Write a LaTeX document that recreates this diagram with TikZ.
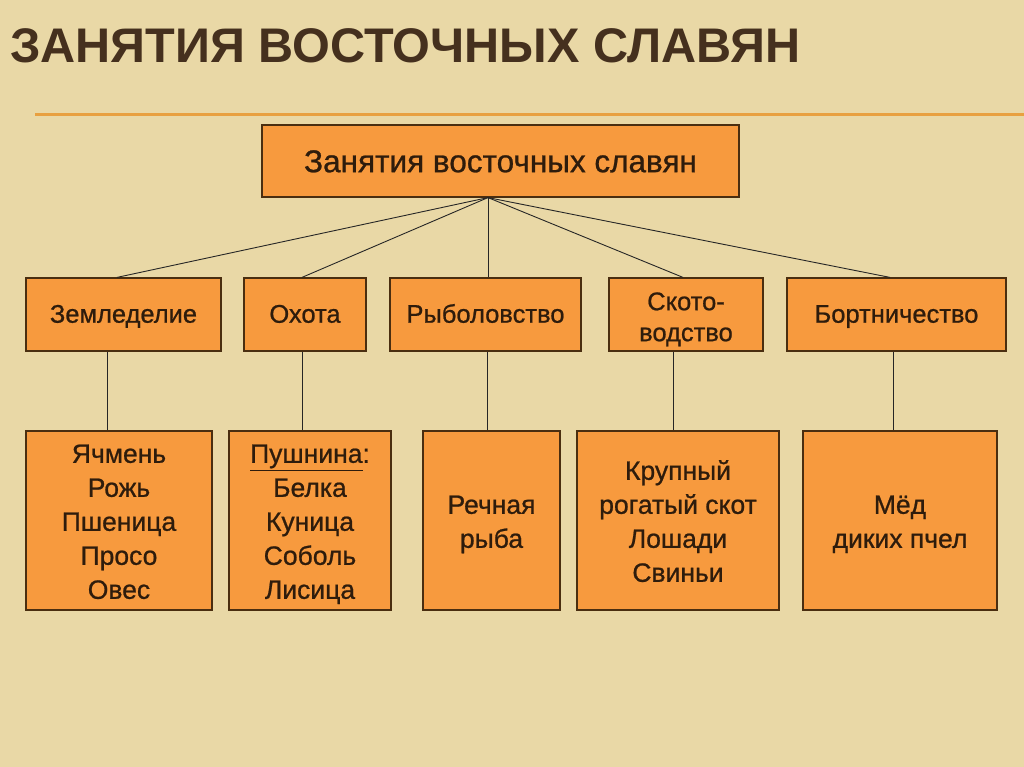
\documentclass[tikz,border=0pt]{standalone}
\usepackage{fontspec}
\setmainfont{Liberation Sans}
\newfontfamily\boxfont[FakeBold=0.8]{Liberation Sans}
\usetikzlibrary{calc}
\definecolor{bg}{HTML}{E9D8A6}
\definecolor{boxfill}{HTML}{F79A3E}
\definecolor{boxline}{HTML}{4A2E10}
\definecolor{txt}{HTML}{2E1C0C}
\definecolor{ttl}{HTML}{45301E}
\definecolor{rulec}{HTML}{E8A040}
\newcommand\lowered[2]{\raisebox{-#1}[\height][\depth]{\begin{tabular}{@{}c@{}}#2\end{tabular}}}
\tikzset{
  box/.style={draw=boxline, line width=1.2pt, fill=boxfill, inner sep=0pt, align=center, text=txt},
  topbox/.style={box, font=\boxfont\fontsize{31.5}{36}\selectfont},
  midbox/.style={box, minimum height=73pt, font=\boxfont\fontsize{25.5}{31}\selectfont},
  lowbox/.style={box, minimum height=179pt, font=\boxfont\fontsize{26.5}{34}\selectfont},
  conn/.style={draw=black!85, line width=0.9pt}
}
\begin{document}
\begin{tikzpicture}[x=1pt,y=-1pt]
\fill[bg] (0,0) rectangle (1024,767);
\useasboundingbox (0,0) rectangle (1024,767);
\fill[rulec] (35,113.5) rectangle (1024,116.5);
\node[anchor=base west, inner sep=0pt, text=ttl, font=\fontsize{48.6}{56}\bfseries\selectfont] (title) at (10,63) {ЗАНЯТИЯ ВОСТОЧНЫХ СЛАВЯН};

\node[topbox, minimum width=477pt, minimum height=72pt] (top) at (500.5,161) {\lowered{4pt}{Занятия восточных славян}};

\node[midbox, minimum width=195pt] (zem) at (123.5,314.5) {\lowered{2pt}{Земледелие}};
\node[midbox, minimum width=122pt] (oh) at (305,314.5) {\lowered{2pt}{Охота}};
\node[midbox, minimum width=191pt] (ryb) at (485.5,314.5) {\lowered{2pt}{Рыболовство}};
\node[midbox, minimum width=154pt] (sk) at (686,314.5) {\lowered{5pt}{Ското-\\водство}};
\node[midbox, minimum width=219pt] (bort) at (896.5,314.5) {\lowered{2pt}{Бортничество}};

\node[lowbox, minimum width=186pt] (b1) at (119,520.5) {\lowered{3.5pt}{Ячмень\\Рожь\\Пшеница\\Просо\\Овес}};
\node[lowbox, minimum width=162pt] (b2) at (310,520.5) {\lowered{3.5pt}{\underline{Пушнина}:\\Белка\\Куница\\Соболь\\Лисица}};
\node[lowbox, minimum width=137pt] (b3) at (491.5,520.5) {\lowered{3.5pt}{Речная\\рыба}};
\node[lowbox, minimum width=202pt] (b4) at (678,520.5) {\lowered{3.5pt}{Крупный\\рогатый скот\\Лошади\\Свиньи}};
\node[lowbox, minimum width=194pt] (b5) at (900,520.5) {\lowered{3.5pt}{Мёд\\диких пчел}};

\coordinate (fan) at ([xshift=-12.5pt]top.south);
\draw[conn] (fan) -- ([xshift=-6.5pt]zem.north);
\draw[conn] (fan) -- ([xshift=-3pt]oh.north);
\draw[conn] (fan) -- ([xshift=2.5pt]ryb.north);
\draw[conn] (fan) -- ([xshift=-3pt]sk.north);
\draw[conn] (fan) -- ([xshift=-6.5pt]bort.north);

\coordinate (v1) at ([xshift=-16.5pt]zem.south);
\coordinate (v2) at ([xshift=-3pt]oh.south);
\coordinate (v3) at ([xshift=1.5pt]ryb.south);
\coordinate (v4) at ([xshift=-13pt]sk.south);
\coordinate (v5) at ([xshift=-3.5pt]bort.south);
\draw[conn] (v1) -- (v1 |- b1.north);
\draw[conn] (v2) -- (v2 |- b2.north);
\draw[conn] (v3) -- (v3 |- b3.north);
\draw[conn] (v4) -- (v4 |- b4.north);
\draw[conn] (v5) -- (v5 |- b5.north);
\end{tikzpicture}
\end{document}
